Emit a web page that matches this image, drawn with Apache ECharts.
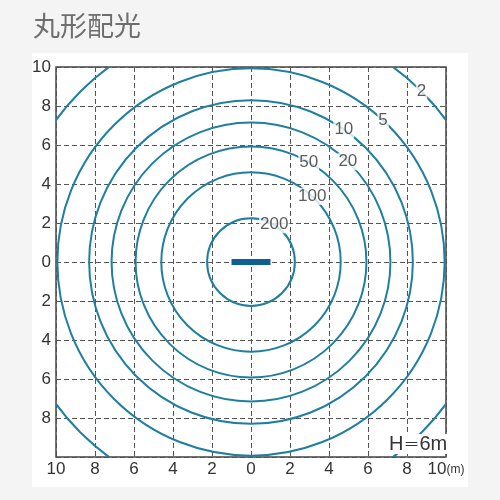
<!DOCTYPE html>
<html>
<head>
<meta charset="utf-8">
<script src="https://cdn.jsdelivr.net/npm/echarts@6/dist/echarts.min.js"></script>
<style>
html,body{margin:0;padding:0;background:#f4f4f4;}
#c{width:500px;height:500px;}
</style>
</head>
<body>
<div id="c"></div>
<script>
// ---- data ----
const titleText = '丸形配光';
const levelLabels = ['200', '100', '50', '20', '10', '5', '2'];
const levelRadii = [2.25, 4.6, 5.92, 7.15, 8.3, 9.93, 12.37];   // metres
const labelAngleDeg = [58, 47, 60, 46, 55, 47, 45];
const lampX = [-1, 1];
const lampY = [0, 0];
const axisMin = -10, axisMax = 10, axisStep = 2;
const heightNoteParts = ['H', '＝', '6m'];

const circleColor = '#1f7f9f';
const sans = 'Liberation Sans, Arial, sans-serif';

const circleData = levelRadii.map((r, i) => [0, 0, r, levelLabels[i]]);
const labelData = levelRadii.map((r, i) => {
  const a = labelAngleDeg[i] * Math.PI / 180;
  return { value: [r * Math.cos(a), r * Math.sin(a)], name: levelLabels[i] };
});

const chart = echarts.init(document.getElementById('c'), null, { renderer: 'canvas' });
chart.setOption({
  animation: false,
  backgroundColor: 'transparent',
  textStyle: { fontFamily: sans },
  graphic: [
    { type: 'rect', z: -10, silent: true, shape: { x: 32, y: 53, width: 436, height: 434 }, style: { fill: '#ffffff' } },
    { type: 'text', left: 33, top: 12, style: { text: titleText, fill: '#6e6e6e', fontSize: 27, fontFamily: 'Noto Sans CJK JP' } },
    { type: 'text', z: 100, left: 387, top: 434, style: {
        text: '{a|' + heightNoteParts[0] + '}{e|' + heightNoteParts[1] + '}{a|' + heightNoteParts[2] + '}',
        backgroundColor: '#fff', padding: [0, 2],
        rich: {
          a: { fontSize: 20, fill: '#333', color: '#333', fontFamily: sans },
          e: { fontSize: 16, fill: '#333', color: '#333', fontFamily: 'Noto Sans CJK JP' }
        }
    } }
  ],
  grid: { left: 56, top: 67, width: 390, height: 390, show: true, borderColor: '#444', borderWidth: 1.5, backgroundColor: '#fff' },
  xAxis: {
    type: 'value', min: axisMin, max: axisMax, interval: axisStep,
    axisLine: { show: false }, axisTick: { show: false },
    splitLine: { show: true, lineStyle: { type: [5, 3], color: '#555', width: 1 } },
    axisLabel: {
      margin: 4, color: '#333', fontSize: 17,
      formatter: v => v === axisMax ? '{a|' + Math.abs(v) + '}{b|(m)}' : '{a|' + Math.abs(v) + '}',
      rich: { a: { fontSize: 17, color: '#333', fontFamily: sans }, b: { fontSize: 12, color: '#333', fontFamily: sans } }
    }
  },
  yAxis: {
    type: 'value', min: axisMin, max: axisMax, interval: axisStep,
    axisLine: { show: false }, axisTick: { show: false },
    splitLine: { show: true, lineStyle: { type: [5, 3], color: '#555', width: 1 } },
    axisLabel: { margin: 5, color: '#333', fontSize: 17, fontFamily: sans, formatter: v => v === axisMin ? '' : String(Math.abs(v)) }
  },
  series: [
    {
      type: 'custom', clip: true, data: circleData, z: 3,
      renderItem: (params, api) => {
        const c = api.coord([api.value(0), api.value(1)]);
        const rpx = api.size([api.value(2), 0])[0];
        return { type: 'circle', shape: { cx: c[0], cy: c[1], r: rpx }, style: { fill: null, stroke: circleColor, lineWidth: 2 } };
      }
    },
    {
      type: 'scatter', data: labelData, symbolSize: 0, z: 5,
      label: { show: true, position: 'inside', formatter: p => p.name, fontSize: 17, fontFamily: sans, color: '#333', backgroundColor: '#fff', padding: [0, 1] }
    },
    {
      type: 'line', data: lampX.map((x, i) => [x, lampY[i]]), symbol: 'none', z: 6,
      lineStyle: { color: '#0e5f95', width: 6, cap: 'butt' }
    }
  ]
});
</script>
</body>
</html>
